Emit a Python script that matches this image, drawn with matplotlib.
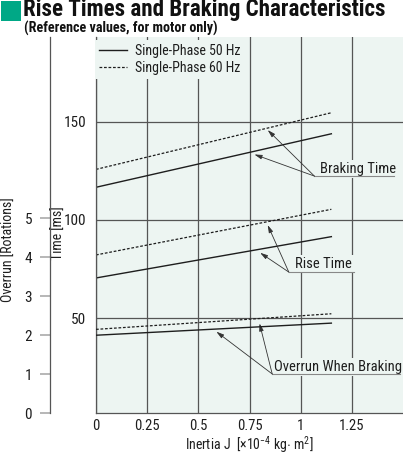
import matplotlib
matplotlib.use("Agg")
import matplotlib.pyplot as plt
from matplotlib.patches import Rectangle

# Values (lines are straight, endpoints only)
inertia = [0.0, 1.15]                 # x 10^-4 kg m^2
brake_50 = [116.6, 143.8]             # ms
brake_60 = [125.7, 154.5]
rise_50 = [70.5, 91.5]
rise_60 = [82.2, 105.4]
overrun_50 = [2.00, 2.31]             # rotations
overrun_60 = [2.15, 2.55]

x_ticks = [0, 0.25, 0.5, 0.75, 1, 1.25]
x_ticklabels = ["0", "0.25", "0.5", "0.75", "1", "1.25"]
time_ticks = [50, 100, 150]
overrun_ticks = [0, 1, 2, 3, 4, 5]

FONT = ["Roboto Condensed", "Archivo Narrow", "PT Sans Narrow", "DejaVu Sans"]
plt.rcParams["font.family"] = FONT
plt.rcParams["mathtext.fontset"] = "custom"
plt.rcParams["mathtext.rm"] = "Roboto Condensed"
plt.rcParams["mathtext.it"] = "Roboto Condensed"

BG = "#edf5f2"
GRID = "#555555"
INK = "#1e1e1e"

fig = plt.figure(figsize=(4.03, 4.54), dpi=100)
ax = fig.add_axes([96 / 403, 1 - 413.3 / 454, 307 / 403, 376.3 / 454])
ax.set_facecolor(BG)

ax.set_xlim(0, 1.5)
ax.set_ylim(1.7, 193)
ax.set_xticks(x_ticks)
ax.set_xticklabels(x_ticklabels)
ax.set_yticks(time_ticks)
ax.tick_params(axis="x", length=0, pad=4, labelsize=10.5, colors=INK)
ax.tick_params(axis="y", length=0, pad=7, labelsize=11, colors=INK)
ax.grid(True, color=GRID, lw=0.9)
ax.set_axisbelow(True)
for s in ["top", "right"]:
    ax.spines[s].set_visible(False)
for s in ["left", "bottom"]:
    ax.spines[s].set_color(GRID)
    ax.spines[s].set_linewidth(0.9)

dash = (0, (2.2, 1.4))
l50, = ax.plot(inertia, brake_50, color=INK, lw=1.0, label="Single-Phase 50 Hz")
l60, = ax.plot(inertia, brake_60, color=INK, lw=0.9, ls=dash, label="Single-Phase 60 Hz")
ax.plot(inertia, rise_50, color=INK, lw=1.0)
ax.plot(inertia, rise_60, color=INK, lw=0.9, ls=dash)

ax.set_xlabel("Inertia J  [$\\times$10$^{-4}$ kg$\\cdot$ m$^2$]", fontsize=10, color=INK)
ax.xaxis.set_label_coords(0.5, -0.056)
ax.set_ylabel("Time [ms]", fontsize=10, color=INK)
ax.yaxis.set_label_coords(-0.098, 0.48)

# overrun axis, drawn further left
ax2 = ax.twinx()
ax2.set_ylim(0.04, 9.64)
ax2.set_yticks(overrun_ticks)
ax2.yaxis.set_ticks_position("left")
ax2.yaxis.set_label_position("left")
ax2.spines["left"].set_position(("outward", 33))
ax2.spines["left"].set_color(GRID)
ax2.spines["left"].set_linewidth(0.9)
for s in ["top", "right", "bottom"]:
    ax2.spines[s].set_visible(False)
ax2.tick_params(axis="y", length=7.5, width=1.2, color="#aaaaaa", pad=5.5,
                labelsize=11, labelcolor=INK)
ax2.set_ylabel("Overrun [Rotations]", fontsize=10, color=INK)
ax2.yaxis.set_label_coords(-0.262, 0.435)
ax2.plot(inertia, overrun_50, color=INK, lw=1.0)
ax2.plot(inertia, overrun_60, color=INK, lw=0.9, ls=dash)

leg = ax.legend(handles=[l50, l60], loc="upper left", bbox_to_anchor=(-0.012, 1.0),
                fontsize=10, handlelength=2.0, handletextpad=0.6, labelspacing=0.2,
                borderpad=0.3, borderaxespad=0.2, frameon=True, fancybox=False)
leg.get_frame().set_facecolor(BG)
leg.get_frame().set_edgecolor("none")
leg.get_frame().set_alpha(1)
for t in leg.get_texts():
    t.set_color(INK)

# callouts: (text, text pos, underline start, underline end, arrow tips)
arrow = dict(arrowstyle="-|>,head_length=0.45,head_width=0.13", lw=0.6,
             color="#333333", shrinkA=0, shrinkB=0)
callouts = [
    ("Braking Time", (1.094, 124.0), (1.067, 122.3), 1.456, [(0.839, 145.7), (0.774, 133.3)]),
    ("Rise Time", (0.974, 75.4), (0.942, 73.5), 1.262, [(0.839, 97.4), (0.802, 83.3)]),
    ("Overrun When Braking", (0.872, 23.4), (0.861, 21.7), 1.486, [(0.799, 47.4), (0.588, 43.2)]),
]
for label, tpos, anchor, xend, tips in callouts:
    ax.text(tpos[0], tpos[1], label, fontsize=10.5, color=INK, ha="left", va="baseline",
            zorder=4, bbox=dict(facecolor=BG, edgecolor="none", pad=1.5))
    ax.plot([anchor[0], xend], [anchor[1], anchor[1]], color="#888888", lw=0.8, zorder=5)
    for tip in tips:
        ax.annotate("", xy=tip, xytext=anchor, arrowprops=arrow, zorder=5)

# header
fig.patches.append(Rectangle((1 / 403, 1 - 21 / 454), 20 / 403, 20 / 454,
                             transform=fig.transFigure, facecolor="#00a886",
                             edgecolor="none"))
fig.text(23 / 403, 1 + 1.5 / 454, "Rise Times and Braking Characteristics",
         fontsize=16.6, fontweight="bold", color="#111111", ha="left", va="top")
fig.text(24 / 403, 1 - 21 / 454, "(Reference values, for motor only)",
         fontsize=10.2, fontweight="bold", color="#111111", ha="left", va="top")

fig.savefig("out.png", dpi=100, facecolor="white")
